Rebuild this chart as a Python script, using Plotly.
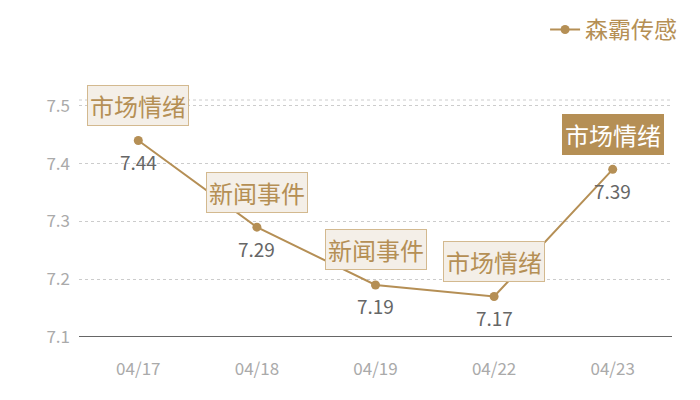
import plotly.graph_objects as go

dates = ["04/17", "04/18", "04/19", "04/22", "04/23"]
values = [7.44, 7.29, 7.19, 7.17, 7.39]
tags = ["市场情绪", "新闻事件", "新闻事件", "市场情绪", "市场情绪"]
series_name = "森霸传感"

gold = "#b58f55"
font_cn = "Noto Sans CJK SC"

fig = go.Figure()
fig.add_trace(go.Scatter(
    x=dates, y=values, name=series_name,
    mode="lines+markers",
    line=dict(color=gold, width=2),
    marker=dict(color=gold, size=9),
    cliponaxis=False,
))

for i, (d, v, t) in enumerate(zip(dates, values, tags)):
    last = i == len(dates) - 1
    # value under the point
    fig.add_annotation(
        x=d, y=v, text=f"{v:.2f}", showarrow=False, yshift=-21,
        font=dict(family=font_cn, size=19, color="#666666"),
    )
    # tag box above the point, the last one highlighted
    fig.add_annotation(
        x=d, y=v, text=t, showarrow=False, yshift=35,
        font=dict(family=font_cn, size=24, color="#ffffff" if last else gold),
        bgcolor=gold if last else "#f4efe8",
        bordercolor=gold if last else "#d3b98f",
        borderwidth=1, borderpad=2,
    )

# dotted line at the top of the plot area
fig.add_shape(type="line", xref="paper", yref="paper", x0=0, x1=1, y0=1, y1=1,
              line=dict(color="#cccccc", width=1, dash="dot"))

fig.update_layout(
    width=700, height=400,
    margin=dict(l=71, r=36, t=92, b=71, autoexpand=False),
    plot_bgcolor="white", paper_bgcolor="white",
    font=dict(family=font_cn),
    showlegend=True,
    legend=dict(x=1.017, y=1.388, xanchor="right", yanchor="top",
                font=dict(family=font_cn, size=23, color=gold),
                bgcolor="rgba(0,0,0,0)", itemwidth=30),
    xaxis=dict(type="category", range=[-0.5, len(dates) - 0.5],
               showgrid=False, showline=False, zeroline=False,
               ticks="", tickfont=dict(size=17, color="#aaaaaa"),
               ticklabelstandoff=20),
    yaxis=dict(range=[7.1, 7.51], tickvals=[7.1, 7.2, 7.3, 7.4, 7.5],
               ticktext=["7.1", "7.2", "7.3", "7.4", "7.5"],
               showgrid=True, gridcolor="#cccccc", griddash="dot", gridwidth=1,
               zeroline=False, showline=False, ticks="",
               tickfont=dict(size=17, color="#aaaaaa"), ticklabelstandoff=8),
)

# baseline at 7.1
fig.add_shape(type="line", xref="paper", yref="y", x0=0, x1=1, y0=7.1, y1=7.1,
              line=dict(color="#333333", width=1.5))

fig.write_html("out.html")
